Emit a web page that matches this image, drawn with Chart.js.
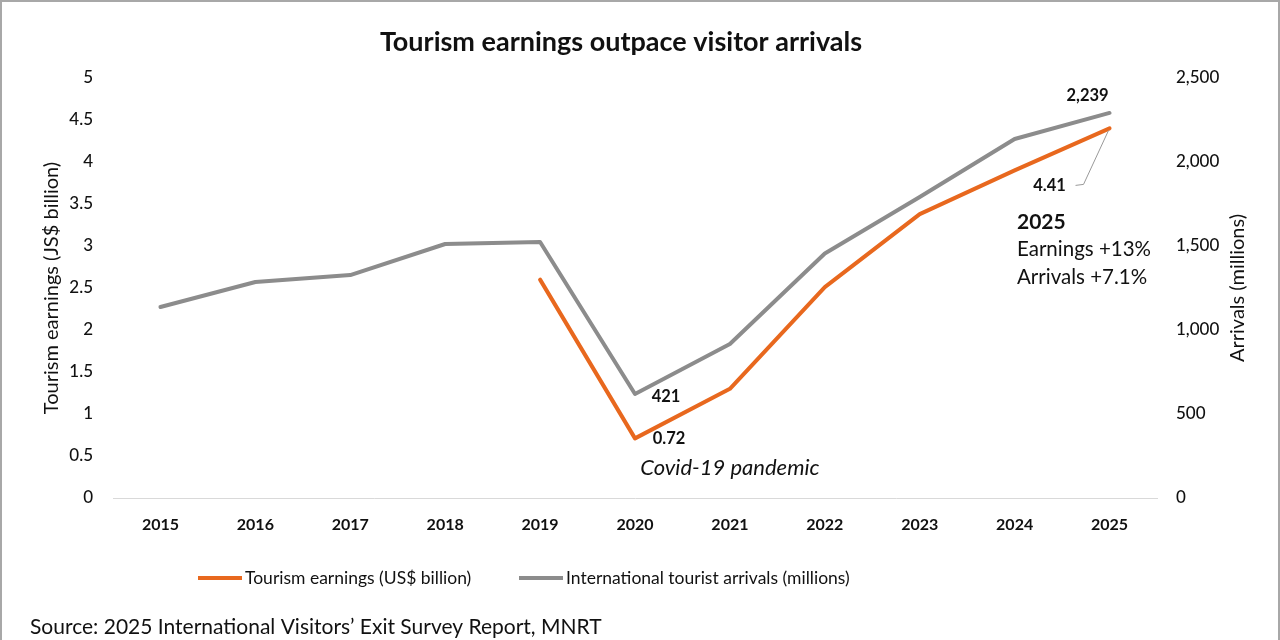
<!DOCTYPE html>
<html><head><meta charset="utf-8">
<script src="https://cdn.jsdelivr.net/npm/chart.js@4"></script>
<style>html,body{margin:0;padding:0;background:#fff}#wrap{width:1280px;height:640px;position:relative;background:#fff}</style>
</head><body><div id="wrap"><canvas id="c" width="1280" height="640"></canvas></div>
<script>
const years = ['2015','2016','2017','2018','2019','2020','2021','2022','2023','2024','2025'];
const earnings = [null, null, null, null, 2.60, 0.71, 1.30, 2.51, 3.38, 3.90, 4.40];
const arrivals = [1137, 1286, 1327, 1512, 1524, 619, 917, 1455, 1792, 2137, 2292];
const earningsLabel = 'Tourism earnings (US$ billion)';
const arrivalsLabel = 'International tourist arrivals (millions)';
const titleText = 'Tourism earnings outpace visitor arrivals';
const leftTitle = 'Tourism earnings (JS$ billion)';
const rightTitle = 'Arrivals (millions)';
const sourceText = 'Source: 2025 International Visitors\u2019 Exit Survey Report, MNRT';
const noteLines = ['2025', 'Earnings +13%', 'Arrivals +7.1%'];
const callouts = { arrivals2025: '2,239', earnings2025: '4.41', arrivals2020: '421', earnings2020: '0.72', covid: 'Covid-19 pandemic' };

const ORANGE = '#E8681E', GRAY = '#8C8C8C', TXT = '#111';
const F = 'Lato, "Open Sans", sans-serif';

const deco = {
  id: 'deco',
  afterDraw(chart) {
    const { ctx, scales: { x, yL, yR } } = chart;
    ctx.save();
    // frame
    ctx.strokeStyle = '#a8a8a8'; ctx.lineWidth = 2;
    ctx.beginPath(); ctx.moveTo(1, 640); ctx.lineTo(1, 1); ctx.lineTo(1279, 1); ctx.lineTo(1279, 640); ctx.stroke();
    // title
    ctx.fillStyle = TXT; ctx.textBaseline = 'middle'; ctx.textAlign = 'center';
    ctx.font = 'bold 27px ' + F;
    ctx.fillText(titleText, 621, 42);
    // right axis title (reads bottom to top)
    ctx.save();
    ctx.translate(1238, (chart.chartArea.top + chart.chartArea.bottom) / 2);
    ctx.rotate(-Math.PI / 2);
    ctx.font = '20px ' + F;
    ctx.fillText(rightTitle, 0, 0);
    ctx.restore();
    // callouts
    const i20 = years.indexOf('2020'), i21 = years.indexOf('2021'), i25 = years.indexOf('2025');
    const gx20 = x.getPixelForValue(i20), gy20 = yR.getPixelForValue(arrivals[i20]);
    const oy20 = yL.getPixelForValue(earnings[i20]);
    const gx25 = x.getPixelForValue(i25), gy25 = yR.getPixelForValue(arrivals[i25]);
    const oy25 = yL.getPixelForValue(earnings[i25]);
    ctx.font = 'bold 16.5px ' + F; ctx.textAlign = 'center';
    ctx.fillText(callouts.arrivals2025, gx25 - 22, gy25 - 17);
    ctx.fillText(callouts.arrivals2020, gx20 + 31, gy20 + 3);
    ctx.fillText(callouts.earnings2020, gx20 + 34, oy20);
    ctx.fillText(callouts.earnings2025, gx25 - 60, oy25 + 57);
    ctx.strokeStyle = '#999'; ctx.lineWidth = 1;
    ctx.beginPath(); ctx.moveTo(gx25 - 34, oy25 + 57); ctx.lineTo(gx25 - 26, oy25 + 56); ctx.lineTo(gx25 - 1, oy25 + 2); ctx.stroke();
    ctx.font = 'italic 22px ' + F;
    ctx.fillText(callouts.covid, x.getPixelForValue(i21), 468);
    // 2025 note
    ctx.textAlign = 'left';
    ctx.font = 'bold 21px ' + F; ctx.fillText(noteLines[0], 1017, 222);
    ctx.font = '20.5px ' + F;
    ctx.fillText(noteLines[1], 1017, 249);
    ctx.fillText(noteLines[2], 1017, 277);
    // legend
    ctx.lineWidth = 4; ctx.lineCap = 'butt';
    ctx.strokeStyle = ORANGE; ctx.beginPath(); ctx.moveTo(198, 578); ctx.lineTo(242, 578); ctx.stroke();
    ctx.strokeStyle = GRAY; ctx.beginPath(); ctx.moveTo(519, 578); ctx.lineTo(563, 578); ctx.stroke();
    ctx.font = '17.5px ' + F; ctx.fillStyle = TXT;
    ctx.fillText(earningsLabel, 245, 578);
    ctx.fillText(arrivalsLabel, 566, 578);
    // source
    ctx.font = '21px ' + F;
    ctx.fillText(sourceText, 30, 627);
    ctx.restore();
  }
};

new Chart(document.getElementById('c'), {
  type: 'line',
  data: {
    labels: years,
    datasets: [
      { label: arrivalsLabel, data: arrivals, yAxisID: 'yR', borderColor: GRAY, borderWidth: 4, pointRadius: 0, tension: 0, borderJoinStyle: 'round', borderCapStyle: 'round' },
      { label: earningsLabel, data: earnings, yAxisID: 'yL', borderColor: ORANGE, borderWidth: 4, pointRadius: 0, tension: 0, spanGaps: false, borderJoinStyle: 'round', borderCapStyle: 'round' }
    ]
  },
  options: {
    responsive: false, animation: false, devicePixelRatio: 1,
    layout: { padding: { top: 78, left: 0, right: 0, bottom: 102 } },
    plugins: { legend: { display: false }, title: { display: false }, tooltip: { enabled: false } },
    scales: {
      x: {
        offset: true,
        grid: { display: false, drawTicks: false },
        border: { display: true, color: '#d9d9d9', width: 1 },
        ticks: { color: TXT, font: { family: F, size: 16, weight: 'bold' }, padding: 17, maxRotation: 0 },
        afterFit(s) { s.height = 40; }
      },
      yL: {
        position: 'left', min: 0, max: 5,
        grid: { display: false, drawTicks: false },
        border: { display: false },
        ticks: { stepSize: 0.5, color: TXT, font: { family: F, size: 17, weight: '500' }, padding: 20, callback: v => String(v) },
        title: { display: true, text: leftTitle, color: TXT, font: { family: F, size: 20 }, padding: { top: 40, bottom: 0 } },
        afterFit(s) { s.width = 113; }
      },
      yR: {
        position: 'right', min: 0, max: 2500,
        grid: { display: false, drawTicks: false },
        border: { display: false },
        ticks: { stepSize: 500, color: TXT, font: { family: F, size: 17, weight: '500' }, padding: 19, callback: v => v.toLocaleString('en-US') },
        afterFit(s) { s.width = 123; }
      }
    }
  },
  plugins: [deco]
});
</script></body></html>
